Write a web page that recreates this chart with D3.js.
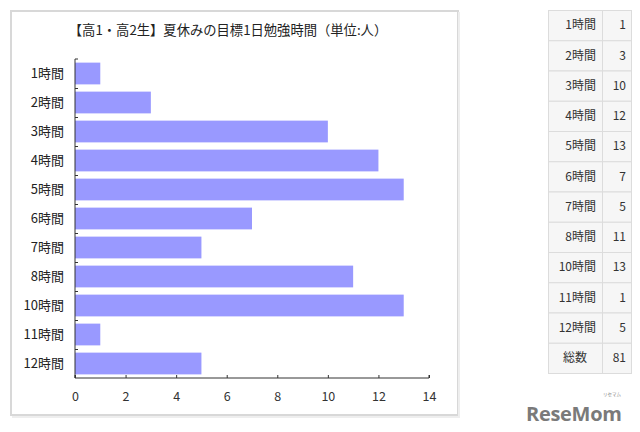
<!DOCTYPE html>
<html><head><meta charset="utf-8">
<script src="https://cdn.jsdelivr.net/npm/d3@7"></script>
<style>
html,body{margin:0;padding:0;background:#fff;}
svg{display:block;}
</style></head>
<body>
<svg id="c" width="640" height="432"></svg>
<script>
const categories = ["1時間","2時間","3時間","4時間","5時間","6時間","7時間","8時間","10時間","11時間","12時間"];
const values = [1,3,10,12,13,7,5,11,13,1,5];
const xTicks = [0,2,4,6,8,10,12,14];
const title = "【高1・高2生】夏休みの目標1日勉強時間（単位:人）";
const totalLabel = "総数";
const totalValue = 81;
const logoText = "ReseMom";
const logoKana = "リセマム";

const svg = d3.select("#c");
const font = "'Noto Sans CJK JP','Noto Sans',sans-serif";

// panel
svg.append("rect").attr("x",11).attr("y",11).attr("width",447).attr("height",404)
  .attr("fill","#fff").attr("stroke","#d8d8d8").attr("stroke-width",2);
svg.append("line").attr("x1",459).attr("x2",459).attr("y1",12).attr("y2",417).attr("stroke","#eee").attr("stroke-width",2);
svg.append("line").attr("x1",12).attr("x2",460).attr("y1",417).attr("y2",417).attr("stroke","#eee").attr("stroke-width",2);

svg.append("text").attr("x",228).attr("y",35).attr("text-anchor","middle")
  .attr("font-family",font).attr("font-size",13.3).attr("fill","#222").text(title);

const x = d3.scaleLinear().domain([0,14]).range([75,429]);
const y = d3.scaleBand().domain(categories).range([59,378]).paddingInner(0.25).paddingOuter(0.125);

svg.append("g").selectAll("rect").data(values).join("rect")
  .attr("x",x(0)).attr("y",(d,i)=>y(categories[i]))
  .attr("width",d=>x(d)-x(0)).attr("height",y.bandwidth())
  .attr("fill","#9999ff");

// x axis
const xa = svg.append("g").attr("transform","translate(0,378)")
  .call(d3.axisBottom(x).tickValues(xTicks).tickSize(-3).tickPadding(14));
xa.select(".domain").attr("stroke","#333").attr("d","M75,-3V0H429V-3");
xa.selectAll(".tick line").attr("stroke","#333");
xa.selectAll("text").attr("font-family",font).attr("font-size",12.5).attr("fill","#333");

// y axis
const yPos = d3.scaleLinear().domain([0,categories.length]).range([59,378]);
const ya = svg.append("g").attr("transform","translate(75,0)");
ya.append("path").attr("d","M3,59H0V378").attr("fill","none").attr("stroke","#333");
ya.selectAll("line.tk").data(d3.range(1,categories.length)).join("line")
  .attr("x1",0).attr("x2",3).attr("y1",i=>Math.round(yPos(i))+0.5).attr("y2",i=>Math.round(yPos(i))+0.5)
  .attr("stroke","#333");
ya.selectAll("text").data(categories).join("text")
  .attr("x",-11).attr("y",d=>y(d)+y.bandwidth()/2).attr("dy","0.36em")
  .attr("text-anchor","end").attr("font-family",font).attr("font-size",13).attr("fill","#222")
  .text(d=>d);

// table
const rows = categories.map((c,i)=>({label:c,value:values[i],total:false}));
rows.push({label:totalLabel,value:totalValue,total:true});
const ty = d3.scaleBand().domain(d3.range(rows.length)).range([10,373]);
const tx0 = 548, tx1 = 602, tx2 = 631;
const tg = svg.append("g");
tg.selectAll("rect.c1").data(rows).join("rect")
  .attr("x",tx0+0.5).attr("y",(d,i)=>ty(i)+0.5).attr("width",tx1-tx0).attr("height",ty.bandwidth())
  .attr("fill","#f6f6f6").attr("stroke","#dcdcdc");
tg.selectAll("rect.c2").data(rows).join("rect")
  .attr("x",tx1+0.5).attr("y",(d,i)=>ty(i)+0.5).attr("width",tx2-tx1).attr("height",ty.bandwidth())
  .attr("fill","#f6f6f6").attr("stroke","#dcdcdc");
tg.selectAll("text.l").data(rows).join("text")
  .attr("x",d=>d.total?(tx0+tx1)/2:tx1-6).attr("y",(d,i)=>ty(i)+ty.bandwidth()/2).attr("dy","0.36em")
  .attr("text-anchor",d=>d.total?"middle":"end")
  .attr("font-family",font).attr("font-size",12).attr("fill","#333").text(d=>d.label);
tg.selectAll("text.v").data(rows).join("text")
  .attr("x",tx2-5).attr("y",(d,i)=>ty(i)+ty.bandwidth()/2).attr("dy","0.36em")
  .attr("text-anchor","end")
  .attr("font-family",font).attr("font-size",12).attr("fill","#333").text(d=>d.value);

// logo
svg.append("text").attr("x",526).attr("y",421).attr("font-family","'Open Sans','DejaVu Sans',sans-serif")
  .attr("font-weight","bold").attr("font-size",20).attr("fill","#7a7a7a").attr("letter-spacing",-0.3).text(logoText);
svg.append("text").attr("x",612).attr("y",396).attr("text-anchor","middle").attr("font-family",font)
  .attr("font-size",4.5).attr("fill","#888").text(logoKana);
</script>
</body></html>
